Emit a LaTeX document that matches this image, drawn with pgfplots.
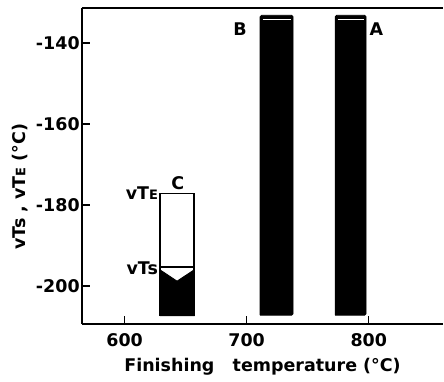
\documentclass[border=0pt]{standalone}
\usepackage{pgfplots}
\pgfplotsset{compat=1.18}
\usepackage{fontspec}
\setmainfont{DejaVu Sans}
\newcommand{\sm}[1]{{\fontsize{13bp}{15bp}\selectfont #1}}
\newcommand{\bigf}{\bfseries\fontsize{17.5bp}{20bp}\selectfont}
\begin{document}
\bigf
\begin{tikzpicture}
\begin{axis}[
  name=ax,
  scale only axis, width=362bp, height=316.7bp,
  xmin=565, xmax=861, ymin=-209.4, ymax=-131.4,
  axis x line*=box, axis y line*=left,
  xtick={600,700,800}, ytick={-200,-180,-160,-140},
  xtick pos=bottom, ytick pos=left,
  tick align=inside,
  major tick length=8bp,
  axis line style={line width=1.6bp},
  every tick/.style={line width=1.4bp, black},
  /pgf/number format/assume math mode=true,
  ticklabel style={font=\bigf},
  xticklabel style={yshift=-3bp},
  yticklabel style={inner xsep=2bp},
  label style={font=\bigf},
  xlabel={Finishing\ \ \ temperature (°C)},
  ylabel={vTs , vT\sm{E} (°C)},
  every axis y label/.style={at={(ticklabel cs:0.434)}, rotate=90, anchor=south},
  clip=false,
]
% A and B bars
\addplot[fill=black, draw=black, line width=0.8bp, rounded corners=1.5bp] coordinates {(711,-207.2) (711,-133.2) (738,-133.2) (738,-207.2) (711,-207.2)};
\addplot[fill=black, draw=black, line width=0.8bp, rounded corners=1.5bp] coordinates {(772.5,-207.2) (772.5,-133.2) (797.8,-133.2) (797.8,-207.2) (772.5,-207.2)};
\addplot[white, line width=0.9bp] coordinates {(713,-134.3) (736,-134.3)};
\addplot[white, line width=0.9bp] coordinates {(774.5,-134.3) (796,-134.3)};
% C bar
\addplot[fill=black, draw=black, line width=0.8bp] coordinates {(629,-207.3) (629,-196.0) (632,-196.6) (643,-198.8) (654,-196.6) (657,-196.0) (657,-207.3) (629,-207.3)};
\addplot[black, line width=1.6bp] coordinates {(629,-207.3) (629,-177.2) (657,-177.2) (657,-207.3)};
\addplot[black, line width=2bp] coordinates {(629,-195.4) (657,-195.4)};
% labels
\node[anchor=east, inner sep=0pt] at (axis cs:627.5,-177.2) {vT\sm{E}};
\node[anchor=east, inner sep=0pt] at (axis cs:627.5,-195.6) {vTs};
\node[inner sep=0pt] at (axis cs:643.5,-174.6) {C};
\node[inner sep=0pt] at (axis cs:694.5,-136.6) {B};
\node[inner sep=0pt] at (axis cs:806.2,-136.6) {A};
\end{axis}
\path ([xshift=-82bp,yshift=-54bp]ax.south west) rectangle ([yshift=8bp]ax.north east);
\end{tikzpicture}
\end{document}
